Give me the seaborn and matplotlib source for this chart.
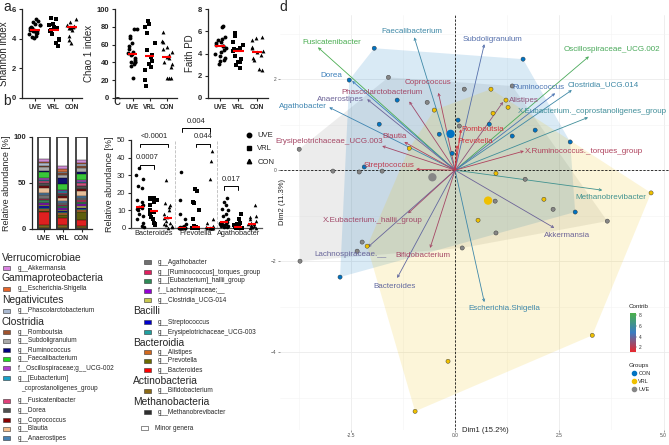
import numpy as np
import pandas as pd
import matplotlib
matplotlib.use("Agg")
import matplotlib.pyplot as plt
from matplotlib.colors import LinearSegmentedColormap, Normalize
from matplotlib.cm import ScalarMappable
from matplotlib.lines import Line2D
from matplotlib.patches import Rectangle
import seaborn as sns

sns.set_style("ticks")
plt.rcParams['font.family'] = ['Liberation Sans', 'DejaVu Sans']
np.random.seed(3)

W, H = 669, 445
groups = ["UVE", "VRL", "CON"]
markers = {"UVE": "o", "VRL": "s", "CON": "^"}

# ---------------- panel a : alpha diversity ----------------
shannon_uve = [5.3, 5.2, 5.1, 5.0, 4.95, 4.9, 4.8, 4.75, 4.7, 4.6, 4.6, 4.55, 4.5, 4.5, 4.4, 4.35, 4.3, 4.2, 4.1, 4.05]
shannon_vrl = [5.4, 5.3, 5.0, 4.9, 4.8, 4.7, 4.6, 4.5, 4.3, 4.0, 3.9, 3.7, 3.5]
shannon_con = [5.3, 5.1, 4.9, 4.85, 4.8, 4.8, 4.75, 4.7, 4.6, 4.2, 3.9, 3.7]
chao_uve = [78, 77, 70, 67, 62, 58, 55, 52, 51, 50, 48, 45, 43, 41, 40, 40, 38, 36, 22]
chao_vrl = [86, 83, 80, 73, 62, 54, 48, 46, 42, 38, 35, 31, 20, 13]
chao_con = [74, 64, 63, 57, 55, 52, 48, 46, 45, 41, 38, 35, 23, 23, 23]
faith_uve = [6.5, 6.4, 5.5, 5.3, 5.2, 5.0, 4.9, 4.8, 4.7, 4.7, 4.5, 4.3, 4.1, 4.0, 3.8, 3.6, 3.4, 3.3, 3.1]
faith_vrl = [5.8, 5.6, 5.0, 4.8, 4.5, 4.4, 4.3, 4.2, 3.8, 3.5, 3.2, 3.2, 3.0, 2.7]
faith_con = [5.5, 5.4, 5.2, 4.6, 4.5, 4.2, 4.1, 3.9, 3.6, 3.4, 2.6, 2.5]

# ---------------- panel b : stacked composition ----------------
genera = ["g__Methanobrevibacter", "g__Bifidobacterium", "g__Bacteroides", "g__Prevotella", "g__Alistipes",
          "g__Erysipelotrichaceae_UCG-003", "g__Streptococcus", "g__Clostridia_UCG-014", "f__Lachnospiraceae;__",
          "g__[Eubacterium]_hallii_group", "g__[Ruminococcus]_torques_group", "g__Agathobacter", "g__Anaerostipes",
          "g__Blautia", "g__Coprococcus", "g__Dorea", "g__Fusicatenibacter", "g__[Eubacterium]_coprostanoligenes_group",
          "f__Oscillospiraceae;g__UCG-002", "g__Faecalibacterium", "g__Ruminococcus", "g__Subdoligranulum",
          "g__Romboutsia", "g__Phascolarctobacterium", "g__Escherichia-Shigella", "g__Akkermansia"]
abund_uve = [1, 3, 14, 2, 2, 1, 1.5, 1.5, 2, 3, 2, 4, 2, 6, 2, 2.5, 2.5, 1.5, 2, 6, 2, 3.5, 1.5, 3, 1.5, 3]
abund_vrl = [1, 3, 8, 3, 2, 1, 2, 1, 1.5, 2, 1.5, 2, 2, 4, 1.5, 2, 2, 1.5, 1.5, 6, 7, 3, 2, 1.5, 3, 3]
abund_con = [1, 2.5, 6, 9, 2.5, 1, 1, 2, 2, 2.5, 1.5, 2.5, 2, 5.5, 3, 3, 2.5, 1.5, 2, 7, 2, 4.5, 1.5, 2.5, 1.5, 3]
genus_colors = ["#2F2F2F", "#8B6914", "#FF0000", "#6B6B00", "#D2691E", "#20A0A0", "#0000CD", "#C8C850",
                "#9400D3", "#2E8B57", "#E0205F", "#707070", "#4682B4", "#F4BE8C", "#8B0000", "#505050",
                "#E0407A", "#1AA0C8", "#B040D0", "#22DD22", "#00007F", "#A9A9A9", "#A0522D", "#A9B8D0",
                "#E5652A", "#D982E0"]

# ---------------- panel c : selected genera ----------------
c_genera = ["Bacteroides", "Prevotella", "Agathobacter"]
bact_uve = [34, 30, 28, 24, 23, 16, 15, 13, 12.5, 12, 11.5, 11, 10, 8, 7, 5, 3, 1, 0.5]
bact_vrl = [17, 17, 16.5, 16, 15, 13, 10, 9, 8, 6, 5, 3, 2, 1.5]
bact_con = [27, 14, 13, 12, 10, 8, 6.5, 5.5, 4, 3, 2, 1.5, 1, 0.5, 0.2]
prev_uve = [32, 16, 8, 5, 2, 1, 0.5, 0.3, 0.2, 0.2, 0.1, 0.1, 0, 0, 0, 0, 0, 0, 0]
prev_vrl = [22, 21, 15, 14, 10, 5, 1, 0.6, 0.3, 0.1, 0, 0, 0, 0]
prev_con = [44, 38, 28, 5, 3, 1, 0.3, 0.1, 0, 0, 0, 0, 0, 0, 0]
agat_uve = [17, 15, 13, 11, 10, 8, 7, 5, 4, 3.5, 3, 2.5, 2, 2, 1.5, 1, 1, 0.5, 0.3]
agat_vrl = [8, 5, 3, 2, 1.5, 1, 0.6, 0.4, 0.3, 0.2, 0.1, 0.1, 0, 0]
agat_con = [13, 7, 6, 5, 4, 3, 2.5, 2, 1.5, 1, 0.8, 0.5, 0.3, 0.2, 0.1]
pvals = [("Bacteroides", "UVE", "VRL", "0.0007", 36), ("Bacteroides", "UVE", "CON", "<0.0001", 48),
         ("Prevotella", "UVE", "CON", "0.004", 57), ("Prevotella", "VRL", "CON", "0.044", 48),
         ("Agathobacter", "UVE", "VRL", "0.017", 24)]

# ---------------- panel d : PCA biplot ----------------
ind_group = ["CON"] * 15 + ["VRL"] * 14 + ["UVE"] * 18
ind_dim1 = [-1.94, -2.54, -1.39, -1.82, -0.38, -2.18, 0.07, -0.07, 1.63, 0.82, 1.92, 1.37, 2.76, 2.88, -2.76,
            -0.50, -1.10, 0.86, 1.22, 1.27, 0.91, 0.98, 2.13, 0.55, 4.70, -2.11, -0.17, -0.96, 3.29,
            -1.60, -0.67, -3.74, -2.93, -2.30, -1.75, 0.22, 1.37, 0.10, 1.68, 0.96, 2.35, 3.65, -2.23, -2.35, -3.72, 0.98, 0.17]
ind_dim2 = [2.68, 1.98, 1.54, 1.01, 0.79, 0.07, 1.10, 0.37, 2.44, 1.01, 0.88, 0.75, 0.62, -0.92, -2.35,
            1.32, 0.48, 1.78, 1.54, 1.38, 1.25, -0.07, -0.64, -1.10, -0.50, -1.67, -4.20, -5.30, -3.63,
            2.04, 1.49, 0.46, -0.02, -0.04, -0.02, 1.78, 1.85, 0.97, -0.20, -0.68, -0.86, -1.12, -1.58, -1.78, -2.00, -1.38, -1.71]
var_names = ["Fusicatenibacter", "Oscillospiraceae_UCG.002", "Faecalibacterium", "Dorea", "Agathobacter",
             "Clostridia_UCG.014", "X.Eubacterium._coprostanoligenes_group", "Methanobrevibacter",
             "Escherichia.Shigella", "Subdoligranulum", "Ruminococcus", "Anaerostipes", "Lachnospiraceae.__",
             "Bacteroides", "Akkermansia", "Phascolarctobacterium", "Coprococcus", "Blautia",
             "Erysipelotrichaceae_UCG.003", "Streptococcus", "X.Eubacterium._hallii_group", "Bifidobacterium",
             "Alistipes", "Romboutsia", "Prevotella", "X.Ruminococcus._torques_group"]
var_dim1 = [-3.29, 3.21, -0.98, -2.47, -3.02, 2.80, 3.19, 3.53, 0.70, 0.70, 2.40, -2.11, -2.09, -1.39, 2.38,
            -1.10, -0.40, -1.22, -1.75, -0.94, -1.13, -0.60, 1.15, 0.14, 0.05, 1.65]
var_dim2 = [2.70, 2.50, 2.92, 1.96, 1.38, 1.76, 1.16, -0.44, -2.90, 2.77, 1.69, 1.56, -1.69, -2.37, -1.27,
            1.51, 1.70, 0.62, 0.53, 0.02, -0.95, -1.71, 1.50, 0.90, 0.55, 0.42]
var_contrib = [8.2, 7.9, 5.6, 5.0, 5.3, 5.6, 6.0, 6.3, 5.5, 4.2, 4.4, 3.7, 3.8, 3.9, 3.7,
               2.6, 2.4, 2.3, 2.5, 2.0, 2.6, 2.5, 3.0, 1.6, 1.6, 2.3]
# where each variable name sits (layout only)
label_xy = [(-2.95, 2.81), (3.77, 2.66), (-1.03, 3.05), (-2.97, 2.09), (-3.65, 1.41), (3.55, 1.87), (3.30, 1.30),
            (3.74, -0.59), (1.18, -3.05), (0.89, 2.88), (2.01, 1.82), (-2.76, 1.56), (-2.52, -1.85), (-1.46, -2.55),
            (2.69, -1.43), (-1.75, 1.71), (-0.65, 1.93), (-1.46, 0.75), (-3.02, 0.62), (-1.58, 0.11), (-1.97, -1.10),
            (-0.77, -1.87), (1.65, 1.54), (0.65, 0.90), (0.48, 0.64), (3.09, 0.40)]
group_colors = {"CON": "#0073C2", "VRL": "#EFC000", "UVE": "#868686"}


def box(l, t, r, b):
    return [l / W, 1 - b / H, (r - l) / W, (b - t) / H]


def style_prism(ax, bold=True, xsize=5.5):
    sns.despine(ax=ax)
    for s in ["left", "bottom"]:
        ax.spines[s].set_linewidth(0.9)
    ax.tick_params(length=2.5, width=0.8, labelsize=5.5, pad=1.5)
    ax.tick_params(axis="x", labelsize=xsize)
    if bold:
        for t in ax.get_xticklabels() + ax.get_yticklabels():
            t.set_fontweight("bold")


def dots_with_median(ax, df, order, jitter, size=2.8):
    for g in groups:
        sns.stripplot(data=df[df["group"] == g], x="cat", y="value", order=order, marker=markers[g],
                      color="black", size=size, jitter=jitter, linewidth=0, ax=ax)
    sns.boxplot(data=df, x="cat", y="value", order=order, showbox=False, showcaps=False, showfliers=False,
                whiskerprops={"visible": False}, medianprops={"color": "red", "linewidth": 1.5, "zorder": 5},
                width=0.55, ax=ax)
    for c in ax.collections:
        c.set_clip_on(False)


fig = plt.figure(figsize=(W / 100, H / 100), dpi=100)

# ---- panel a
alpha_sets = [("Shannon index", [shannon_uve, shannon_vrl, shannon_con], (0, 6), [0, 2, 4, 6], (22, 82), (-0.72, 2.55)),
              ("Chao 1 index", [chao_uve, chao_vrl, chao_con], (0, 100), [0, 20, 40, 60, 80, 100], (115, 177), (-1.03, 2.6)),
              ("Faith PD", [faith_uve, faith_vrl, faith_con], (0, 8), [0, 2, 4, 6, 8], (208, 268), (-0.65, 2.6))]
for name, vals, ylim, yt, (l, r), xl in alpha_sets:
    ax = fig.add_axes(box(l, 9, r, 98))
    df = pd.DataFrame({"group": sum([[g] * len(v) for g, v in zip(groups, vals)], []),
                       "value": sum(vals, [])})
    df["cat"] = df["group"]
    dots_with_median(ax, df, groups, 0.33)
    ax.set_ylim(*ylim)
    ax.set_yticks(yt)
    ax.set_xlim(*xl)
    ax.set_xlabel("")
    ax.set_ylabel(name, fontsize=7, labelpad=2)
    style_prism(ax, xsize=4.7)

# ---- panel b
axb = fig.add_axes(box(32, 137, 92, 229))
comp = pd.DataFrame({"genus": genera * 3,
                     "group": sum([[g] * len(genera) for g in groups], []),
                     "abund": abund_uve + abund_vrl + abund_con})
comp["top"] = comp.groupby("group")["abund"].cumsum()
minor = pd.DataFrame({"genus": "Minor genera", "group": groups, "abund": 0.0, "top": 100.0})
comp = pd.concat([minor, comp], ignore_index=True)
pal_b = dict(zip(genera, genus_colors))
pal_b["Minor genera"] = "white"
hue_order = ["Minor genera"] + genera[::-1]
sns.barplot(data=comp, x="group", y="top", hue="genus", hue_order=hue_order, order=groups, palette=pal_b,
            dodge=False, width=0.6, edgecolor="black", linewidth=0.3, errorbar=None, legend=False, ax=axb)
for p in axb.patches[:3]:
    p.set_facecolor("none")
    p.set_edgecolor("#3a3a3a")
    p.set_linewidth(1.3)
    p.set_zorder(5)
axb.set_ylim(0, 100)
axb.set_yticks([0, 50, 100])
axb.set_xlim(-0.64, 2.55)
axb.set_xlabel("")
axb.set_ylabel("Relative abundance [%]", fontsize=6.5, labelpad=2)
style_prism(axb, xsize=4.9)

# ---- panel c
axc = fig.add_axes(box(131, 140, 262, 228))
c_vals = {("Bacteroides", "UVE"): bact_uve, ("Bacteroides", "VRL"): bact_vrl, ("Bacteroides", "CON"): bact_con,
          ("Prevotella", "UVE"): prev_uve, ("Prevotella", "VRL"): prev_vrl, ("Prevotella", "CON"): prev_con,
          ("Agathobacter", "UVE"): agat_uve, ("Agathobacter", "VRL"): agat_vrl, ("Agathobacter", "CON"): agat_con}
rows = []
for (gen, g), v in c_vals.items():
    rows += [(gen, g, f"{gen}|{g}", x) for x in v]
dfc = pd.DataFrame(rows, columns=["genus", "group", "cat", "value"])
c_order = [f"{gen}|{g}" for gen in c_genera for g in groups]
dots_with_median(axc, dfc, c_order, 0.3, size=2.6)
axc.set_ylim(0, 50)
axc.set_yticks(range(0, 51, 10))
axc.set_xlim(-0.64, 8.7)
axc.set_xticks([1, 4, 7])
axc.set_xticklabels(c_genera)
axc.set_xlabel("")
axc.set_ylabel("Relative abundance [%]", fontsize=6.5, labelpad=2)
for xs in [2.5, 5.5]:
    axc.axvline(xs, color="#BBBBBB", ls="--", lw=0.6, zorder=0)
for gen, g1, g2, txt, yb in pvals:
    x1, x2 = c_order.index(f"{gen}|{g1}"), c_order.index(f"{gen}|{g2}")
    axc.plot([x1, x1, x2, x2], [yb - 2.2, yb, yb, yb - 2.2], color="black", lw=0.7, clip_on=False)
    axc.text((x1 + x2) / 2, yb + 1.8, txt, ha="center", va="bottom", fontsize=5.5, clip_on=False)
style_prism(axc, bold=False, xsize=5.3)
axc.tick_params(axis="x", length=0)
axc.spines["bottom"].set_color("#555555")
leg_h = [Line2D([], [], ls="", marker=markers[g], color="black", markersize=3.2) for g in groups]
axc.legend(leg_h, groups, loc="upper left", bbox_to_anchor=(242 / W, 1 - 129 / H), bbox_transform=fig.transFigure,
           frameon=False, fontsize=5.5, handletextpad=0.6, labelspacing=0.75, borderaxespad=0, handlelength=1)

# ---- panel d
axd = fig.add_axes(box(280, 15, 669, 430))
axd.set_xlim(-4.2, 5.13)
axd.set_ylim(-5.71, 3.41)
axd.set_xticks([-2.5, 0, 2.5, 5.0])
axd.set_xticklabels(["-2.5", "0.0", "2.5", "5.0"])
axd.set_xticks([-3.75, -1.25, 1.25, 3.75], minor=True)
axd.set_yticks([-4, -2, 0, 2])
axd.set_yticks([-5, -3, -1, 1, 3], minor=True)
axd.grid(which="major", color="#EBEBEB", lw=0.6)
axd.grid(which="minor", color="#F3F3F3", lw=0.4)
axd.set_axisbelow(True)
for s in axd.spines.values():
    s.set_visible(False)
axd.tick_params(which="major", labelsize=3.5, labelcolor="#4D4D4D", color="#4D4D4D", length=1.5, width=0.4, pad=1)
axd.tick_params(which="minor", length=0)
axd.axhline(0, color="black", ls=(0, (3, 2)), lw=0.55, zorder=2)
axd.axvline(0, color="black", ls=(0, (3, 2)), lw=0.55, zorder=2)

ind = pd.DataFrame({"group": ind_group, "dim1": ind_dim1, "dim2": ind_dim2})


def convex_hull(pts):
    pts = sorted(set(pts))

    def cross(o, a, b):
        return (a[0] - o[0]) * (b[1] - o[1]) - (a[1] - o[1]) * (b[0] - o[0])
    lower, upper = [], []
    for p in pts:
        while len(lower) >= 2 and cross(lower[-2], lower[-1], p) <= 0:
            lower.pop()
        lower.append(p)
    for p in reversed(pts):
        while len(upper) >= 2 and cross(upper[-2], upper[-1], p) <= 0:
            upper.pop()
        upper.append(p)
    return lower[:-1] + upper[:-1]


for g in ["UVE", "CON", "VRL"]:
    sub = ind[ind["group"] == g]
    hull = convex_hull(list(zip(sub["dim1"], sub["dim2"])))
    hx, hy = zip(*hull)
    axd.fill(hx, hy, color=group_colors[g], alpha=0.15, lw=0, zorder=1)

sns.scatterplot(data=ind, x="dim1", y="dim2", hue="group", palette=group_colors, s=9, edgecolor="#333333",
                linewidth=0.3, legend=False, ax=axd, zorder=4)
cent = ind.groupby("group", as_index=False)[["dim1", "dim2"]].mean()
sns.scatterplot(data=cent, x="dim1", y="dim2", hue="group", palette=group_colors, s=36, edgecolor="none",
                legend=False, ax=axd, zorder=4)

cmap = LinearSegmentedColormap.from_list("contrib", ["#E8262B", "#3A7CC2", "#4BB04A"])
norm = Normalize(1.1, 8.4)
for name, vx, vy, ct, (lx, ly) in zip(var_names, var_dim1, var_dim2, var_contrib, label_xy):
    col = cmap(norm(ct))
    axd.annotate("", xy=(vx, vy), xytext=(0, 0), zorder=3,
                 arrowprops=dict(arrowstyle="->", color=col, lw=0.6, shrinkA=0, shrinkB=0, mutation_scale=4))
    axd.text(lx, ly, name, color=col, fontsize=5.8, ha="center", va="center", zorder=6)

axd.set_xlabel("")
axd.set_ylabel("")
fig.text(485 / W, 1 - 431 / H, "Dim1 (15.2%)", fontsize=5.5, ha="center", va="center", color="#222222")
fig.text(283 / W, 1 - 202 / H, "Dim2 (11.3%)", fontsize=5.5, ha="center", va="center", rotation=90, color="#222222")

cax = fig.add_axes(box(630, 313, 636, 352))
cb = fig.colorbar(ScalarMappable(norm=norm, cmap=cmap), cax=cax, ticks=[2, 4, 6, 8])
cb.outline.set_visible(False)
cax.tick_params(labelsize=3.5, length=1, width=0.3, pad=1, colors="#333333")
fig.text(629 / W, 1 - 306 / H, "Contrib", fontsize=4.5, va="center")
fig.text(629 / W, 1 - 365 / H, "Groups", fontsize=4.5, va="center")
gl = [Line2D([], [], ls="", marker="o", color=group_colors[g], markersize=3) for g in ["CON", "VRL", "UVE"]]
fig.legend(gl, ["CON", "VRL", "UVE"], loc="upper left", bbox_to_anchor=(629 / W, 1 - 369 / H), frameon=False,
           fontsize=4, handletextpad=0.3, labelspacing=0.55, borderaxespad=0, handlelength=1)

# ---- legend of panel b (drawn on a full-figure overlay in pixel units)
ov = fig.add_axes([0, 0, 1, 1])
ov.set_xlim(0, W)
ov.set_ylim(H, 0)
ov.axis("off")
ov.patch.set_visible(False)
col_b = dict(zip(genera, genus_colors))
legend_rows = [
    (2, 18, 258, "h", "Verrucomicrobiae"), (2, 18, 268, "i", "g__Akkermansia"),
    (2, 18, 278, "h", "Gammaproteobacteria"), (2, 18, 289, "i", "g__Escherichia-Shigella"),
    (2, 18, 300, "h", "Negativicutes"), (2, 18, 311, "i", "g__Phascolarctobacterium"),
    (2, 18, 322, "h", "Clostridia"), (2, 18, 332, "i", "g__Romboutsia"), (2, 18, 341, "i", "g__Subdoligranulum"),
    (2, 18, 350, "i", "g__Ruminococcus"), (2, 18, 359, "i", "g__Faecalibacterium"),
    (2, 18, 368, "i", "f__Oscillospiraceae;g__UCG-002"), (2, 18, 378, "i", "g__[Eubacterium]_coprostanoligenes_group"),
    (2, 18, 401, "i", "g__Fusicatenibacter"), (2, 18, 410, "i", "g__Dorea"), (2, 18, 420, "i", "g__Coprococcus"),
    (2, 18, 429, "i", "g__Blautia"), (2, 18, 438, "i", "g__Anaerostipes"),
    (133, 158, 262, "i", "g__Agathobacter"), (133, 158, 272, "i", "g__[Ruminococcus]_torques_group"),
    (133, 158, 281, "i", "g__[Eubacterium]_hallii_group"), (133, 158, 291, "i", "f__Lachnospiraceae;__"),
    (133, 158, 300, "i", "g__Clostridia_UCG-014"), (133, 158, 311, "h", "Bacilli"),
    (133, 158, 322, "i", "g__Streptococcus"), (133, 158, 332, "i", "g__Erysipelotrichaceae_UCG-003"),
    (133, 158, 343, "h", "Bacteroidia"), (133, 158, 352, "i", "g__Alistipes"), (133, 158, 361, "i", "g__Prevotella"),
    (133, 158, 370, "i", "g__Bacteroides"), (133, 158, 381, "h", "Actinobacteria"),
    (133, 158, 391, "i", "g__Bifidobacterium"), (133, 158, 402, "h", "Methanobacteria"),
    (133, 158, 412, "i", "g__Methanobrevibacter"), (133, 155, 428, "m", "Minor genera")]
for hx, tx, y, kind, name in legend_rows:
    if kind == "h":
        ov.text(hx, y, name, fontsize=7.4, va="center", ha="left")
        continue
    face = "white" if kind == "m" else col_b[name]
    x0 = hx + 1 if kind == "i" and hx < 50 else hx + 11
    if kind == "m":
        x0 = hx + 8
    ov.add_patch(Rectangle((x0, y - 2), 7, 4, facecolor=face, edgecolor="#333333", lw=0.4))
    if name == "g__[Eubacterium]_coprostanoligenes_group":
        ov.text(tx, y, "g__[Eubacterium]", fontsize=4.7, va="center")
        ov.text(tx + 3, y + 10, "_coprostanoligenes_group", fontsize=4.7, va="center")
        continue
    ov.text(tx, y, name, fontsize=4.7, va="center")

for lab, x, y in [("a", 3, 7), ("b", 3, 101), ("c", 113, 101), ("d", 279, 7)]:
    fig.text(x / W, 1 - y / H, lab, fontsize=10, va="center", ha="left")

fig.savefig("out.png", dpi=100)
